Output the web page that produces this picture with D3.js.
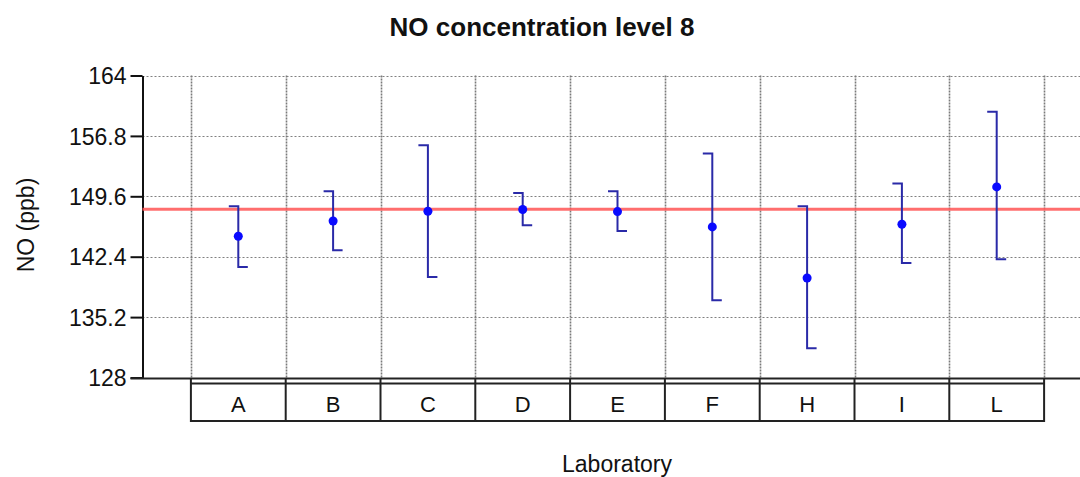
<!DOCTYPE html>
<html>
<head>
<meta charset="utf-8">
<script src="https://cdn.jsdelivr.net/npm/d3@7"></script>
<style>
  html, body { margin: 0; padding: 0; background: #fff; }
  svg { display: block; }
  text { font-family: "Liberation Sans", Arial, sans-serif; fill: #111; }
</style>
</head>
<body>
<div id="chart"></div>
<script>
// ---- data ----
const labs = ["A", "B", "C", "D", "E", "F", "H", "I", "L"];
const means = [144.84, 146.66, 147.82, 148.02, 147.78, 145.95, 139.86, 146.27, 150.72];
const upper = [148.42, 150.21, 155.7, 150.0, 150.21, 154.71, 148.42, 151.13, 159.68];
const lower = [141.17, 143.16, 139.98, 146.15, 145.47, 137.2, 131.5, 141.65, 142.09];
const yTicks = [128, 135.2, 142.4, 149.6, 156.8, 164];
const refValue = 148.06;
const title = "NO concentration level 8";
const yTitle = "NO (ppb)";
const xTitle = "Laboratory";

// ---- layout ----
const W = 1080, H = 477;
const svg = d3.select("#chart").append("svg").attr("width", W).attr("height", H);

const plotLeft = 142.5, plotTop = 75.5, plotBottom = 377.5;
const step = 94.8;
const x = d3.scaleLinear().domain([0, 10]).range([plotLeft + 1, plotLeft + 1 + 10 * step]);
const y = d3.scaleLinear().domain([128, 164]).range([plotBottom, plotTop]);

// horizontal grid lines (dotted)
svg.append("g").selectAll("line").data(yTicks.filter(t => t !== 128)).join("line")
  .attr("x1", plotLeft).attr("x2", W)
  .attr("y1", d => Math.round(y(d)) + 0.5).attr("y2", d => Math.round(y(d)) + 0.5)
  .attr("stroke", "#808080").attr("stroke-width", 1).attr("stroke-dasharray", "2,2");

// vertical grid lines (category boundaries)
const bounds = d3.range(labs.length + 1).map(i => i + 0.5);
svg.append("g").selectAll("line").data(bounds).join("line")
  .attr("x1", d => Math.round(x(d)) + 0.5).attr("x2", d => Math.round(x(d)) + 0.5)
  .attr("y1", plotTop).attr("y2", plotBottom)
  .attr("stroke", "#7a7a7a").attr("stroke-width", 1.6).attr("stroke-dasharray", "2,1");

// y axis
const yAxis = d3.axisLeft(y).tickValues(yTicks).tickFormat(d3.format("")).tickSize(12).tickSizeOuter(0);
const gy = svg.append("g").attr("transform", `translate(${plotLeft},0)`).call(yAxis);
gy.select(".domain").attr("stroke", "#111").attr("stroke-width", 2);
gy.selectAll(".tick line").attr("stroke", "#111").attr("stroke-width", 2);
gy.selectAll(".tick text").attr("x", -16).attr("dy", "0.36em")
  .style("font-size", "23px").style("font-family", "'Liberation Sans', Arial, sans-serif").attr("fill", "#222");

// x axis line
svg.append("line").attr("x1", plotLeft - 12).attr("x2", W)
  .attr("y1", plotBottom + 1).attr("y2", plotBottom + 1)
  .attr("stroke", "#222").attr("stroke-width", 2);

// category label boxes
const boxTop = 383.5, boxBottom = 421;
svg.append("line").attr("x1", x(0.5)).attr("x2", x(labs.length + 0.5))
  .attr("y1", boxTop).attr("y2", boxTop).attr("stroke", "#222").attr("stroke-width", 2);
svg.append("line").attr("x1", x(0.5)).attr("x2", x(labs.length + 0.5))
  .attr("y1", boxBottom).attr("y2", boxBottom).attr("stroke", "#222").attr("stroke-width", 2);
svg.append("g").selectAll("line").data(bounds).join("line")
  .attr("x1", d => x(d)).attr("x2", d => x(d))
  .attr("y1", plotBottom + 1).attr("y2", boxBottom + 1)
  .attr("stroke", "#222").attr("stroke-width", 2);
svg.append("g").selectAll("text").data(labs).join("text")
  .attr("x", (d, i) => x(i + 1)).attr("y", 404)
  .attr("text-anchor", "middle").attr("dy", "0.36em")
  .style("font-size", "22px").text(d => d);

// reference line
svg.append("line").attr("x1", plotLeft).attr("x2", W)
  .attr("y1", y(refValue)).attr("y2", y(refValue))
  .attr("stroke", "#ff5555").attr("stroke-opacity", 0.85).attr("stroke-width", 3);

// error bars
const capW = 9.5;
const eb = svg.append("g").attr("stroke", "#2a2aa8").attr("stroke-width", 2).attr("fill", "none");
labs.forEach((lab, i) => {
  const cx = x(i + 1);
  eb.append("path").attr("d",
    `M${cx - capW},${y(upper[i])}H${cx}V${y(lower[i])}H${cx + capW}`);
});

// points
svg.append("g").selectAll("circle").data(means).join("circle")
  .attr("cx", (d, i) => x(i + 1)).attr("cy", d => y(d)).attr("r", 4.5)
  .attr("fill", "#0a0aff");

// titles
svg.append("text").attr("x", 542).attr("y", 36).attr("text-anchor", "middle")
  .style("font-size", "26px").style("font-weight", "bold").attr("fill", "#000").text(title);
svg.append("text").attr("transform", `translate(34,225) rotate(-90)`)
  .attr("text-anchor", "middle").style("font-size", "23px").text(yTitle);
svg.append("text").attr("x", 617).attr("y", 472).attr("text-anchor", "middle")
  .style("font-size", "23px").text(xTitle);
</script>
</body>
</html>
